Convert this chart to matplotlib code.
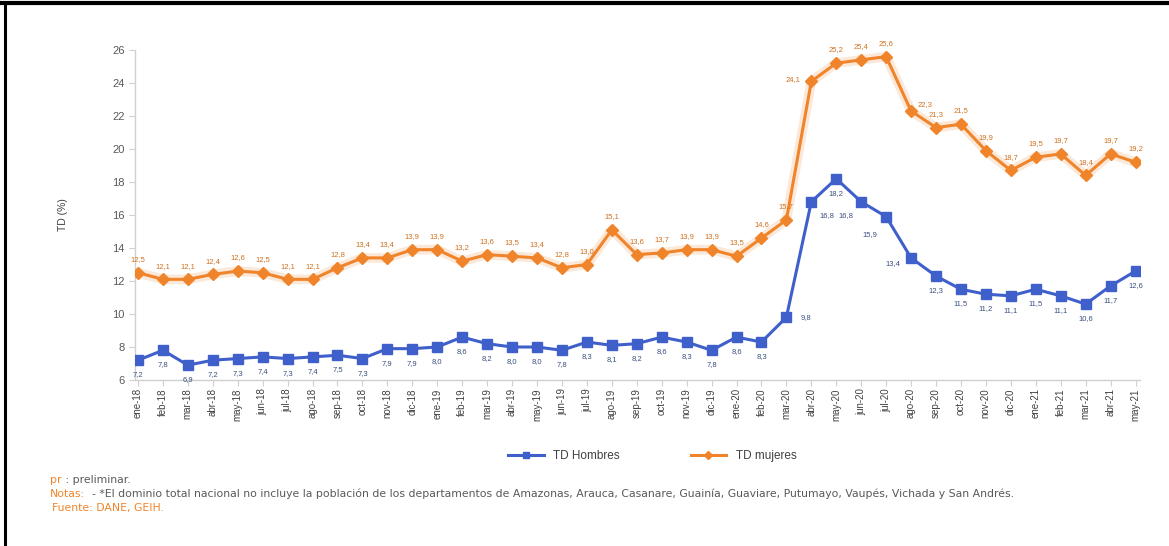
import matplotlib
matplotlib.use("Agg")
import matplotlib.pyplot as plt
from matplotlib.lines import Line2D

plt.rcParams['font.family'] = ['Liberation Sans', 'DejaVu Sans']

months = ["ene-18", "feb-18", "mar-18", "abr-18", "may-18", "jun-18", "jul-18", "ago-18",
          "sep-18", "oct-18", "nov-18", "dic-18",
          "ene-19", "feb-19", "mar-19", "abr-19", "may-19", "jun-19", "jul-19", "ago-19",
          "sep-19", "oct-19", "nov-19", "dic-19",
          "ene-20", "feb-20", "mar-20", "abr-20", "may-20", "jun-20", "jul-20", "ago-20",
          "sep-20", "oct-20", "nov-20", "dic-20",
          "ene-21", "feb-21", "mar-21", "abr-21", "may-21"]

td_hombres = [7.2, 7.8, 6.9, 7.2, 7.3, 7.4, 7.3, 7.4, 7.5, 7.3, 7.9, 7.9,
              8.0, 8.6, 8.2, 8.0, 8.0, 7.8, 8.3, 8.1, 8.2, 8.6, 8.3, 7.8,
              8.6, 8.3, 9.8, 16.8, 18.2, 16.8, 15.9, 13.4, 12.3, 11.5, 11.2, 11.1,
              11.5, 11.1, 10.6, 11.7, 12.6]

td_mujeres = [12.5, 12.1, 12.1, 12.4, 12.6, 12.5, 12.1, 12.1, 12.8, 13.4, 13.4, 13.9,
              13.9, 13.2, 13.6, 13.5, 13.4, 12.8, 13.0, 15.1, 13.6, 13.7, 13.9, 13.9,
              13.5, 14.6, 15.7, 24.1, 25.2, 25.4, 25.6, 22.3, 21.3, 21.5, 19.9, 18.7,
              19.5, 19.7, 18.4, 19.7, 19.2]

y_ticks = [6, 8, 10, 12, 14, 16, 18, 20, 22, 24, 26]

BLUE = '#3F5FCB'
ORANGE = '#F0842A'
BLUE_TXT = '#3A4F7E'
ORANGE_TXT = '#D0701E'
GRAY = '#595959'

W, H = 1169, 546
fig = plt.figure(figsize=(W / 100, H / 100), dpi=100)

left_px, right_px, top_px, bot_px = 135, 1140, 50, 380
ax = fig.add_axes([left_px / W, 1 - bot_px / H, (right_px - left_px) / W, (bot_px - top_px) / H])

x = list(range(len(months)))
# glow under orange line
ax.plot(x, td_mujeres, color=ORANGE, lw=7, alpha=0.18, solid_capstyle='round', zorder=1)
ax.plot(x, td_mujeres, color=ORANGE, lw=2.2, marker='D', ms=6, mec=ORANGE, mfc=ORANGE, zorder=3)
ax.plot(x, td_hombres, color=BLUE, lw=2.2, marker='s', ms=7, mec=BLUE, mfc=BLUE, zorder=3)

ax.set_ylim(6, 26)
ax.set_xlim(-0.12, 40.18)
ax.set_yticks(y_ticks)
ax.set_yticklabels([str(v) for v in y_ticks], fontsize=8, color=GRAY)
ax.set_xticks(x)
ax.set_xticklabels(months, rotation=90, fontsize=7, color='#404040')
for s in ['top', 'right']:
    ax.spines[s].set_visible(False)
for s in ['left', 'bottom']:
    ax.spines[s].set_color('#D0D0D0')
    ax.spines[s].set_linewidth(1.0)
ax.tick_params(axis='both', colors='#D0D0D0', length=4, width=0.8, labelcolor=GRAY)
ax.tick_params(axis='x', labelcolor='#404040', pad=2)
ax.set_ylabel('TD (%)', fontsize=7.5, color='#404040', labelpad=32)

def fmt(v):
    return f"{v:.1f}".replace('.', ',')

# label offsets in points
h_off = {26: (10, 0, 'left', 'center'), 27: (6, -10, 'left', 'center'),
         29: (-6, -10, 'right', 'center'), 30: (-6, -13, 'right', 'center'),
         31: (-8, -4, 'right', 'center')}
m_off = {27: (-8, 1, 'right', 'center'), 31: (5, 5, 'left', 'center')}

for i, v in enumerate(td_hombres):
    dx, dy, ha, va = h_off.get(i, (0, -8, 'center', 'top'))
    ax.annotate(fmt(v), (i, v), xytext=(dx, dy), textcoords='offset points',
                ha=ha, va=va, fontsize=5.5, color=BLUE_TXT)
for i, v in enumerate(td_mujeres):
    dx, dy, ha, va = m_off.get(i, (0, 7, 'center', 'bottom'))
    ax.annotate(fmt(v), (i, v), xytext=(dx, dy), textcoords='offset points',
                ha=ha, va=va, fontsize=5.5, color=ORANGE_TXT)

handles = [Line2D([], [], color=BLUE, lw=2.2, marker='s', ms=5),
           Line2D([], [], color=ORANGE, lw=2.2, marker='D', ms=4.5)]
fig.legend(handles, ['TD Hombres', 'TD mujeres'], loc='center', bbox_to_anchor=(0.558, 1 - 456 / H),
           ncol=2, frameon=False, fontsize=8.5, columnspacing=6, handlelength=3, labelcolor='#404040')

# notes
fs = 7.8
nf = 'DejaVu Sans'
t1 = fig.text(50 / W, 1 - 480 / H, 'pr', color=ORANGE, fontsize=fs, va='center', family=nf)
ax.annotate(' : preliminar.', xy=(1, 0.5), xycoords=t1, va='center', color=GRAY, fontsize=fs,
            family=nf, annotation_clip=False)
t2 = fig.text(50 / W, 1 - 494 / H, 'Notas:', color=ORANGE, fontsize=fs, va='center', family=nf)
ax.annotate('  - *El dominio total nacional no incluye la población de los departamentos de Amazonas, '
            'Arauca, Casanare, Guainía, Guaviare, Putumayo, Vaupés, Vichada y San Andrés.',
            xy=(1, 0.5), xycoords=t2, va='center', color=GRAY, fontsize=fs, family=nf,
            annotation_clip=False)
fig.text(52 / W, 1 - 508 / H, 'Fuente: DANE, GEIH.', color=ORANGE, fontsize=fs, va='center', family=nf)

# frame lines (top and left)
fig.add_artist(Line2D([0, 1], [1 - 3 / H, 1 - 3 / H], color='black', lw=3, transform=fig.transFigure))
fig.add_artist(Line2D([5 / W, 5 / W], [0, 1 - 3 / H], color='black', lw=2.2, transform=fig.transFigure))

fig.savefig('out.png', dpi=100, facecolor='white')
